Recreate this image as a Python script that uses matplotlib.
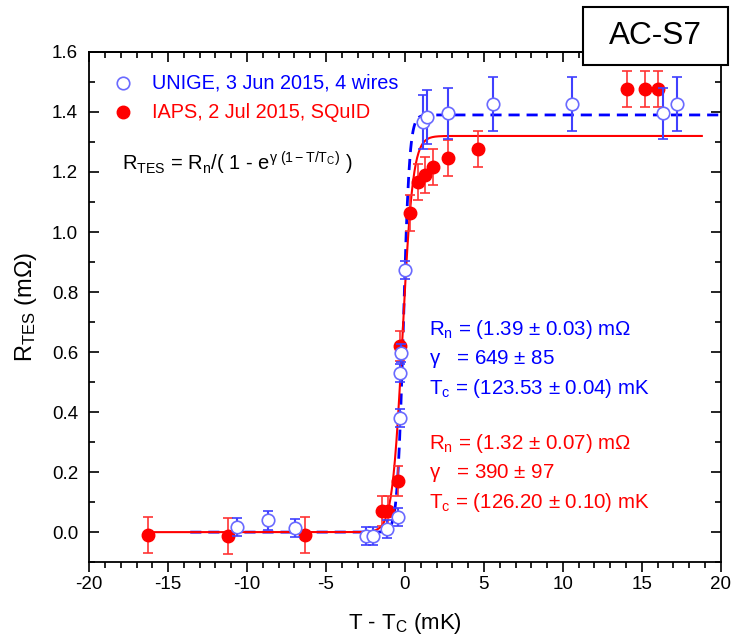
import numpy as np
import matplotlib
matplotlib.use("Agg")
import matplotlib.pyplot as plt
from matplotlib.patches import Rectangle
from matplotlib.ticker import MultipleLocator, FormatStrFormatter

plt.rcParams["font.family"] = ["Liberation Sans", "DejaVu Sans"]
plt.rcParams["mathtext.fontset"] = "custom"
plt.rcParams["mathtext.rm"] = "Liberation Sans"
plt.rcParams["mathtext.it"] = "Liberation Sans"
plt.rcParams["mathtext.bf"] = "Liberation Sans:bold"
plt.rcParams["axes.unicode_minus"] = False

# UNIGE, 3 Jun 2015, 4 wires
unige_x = [-10.65, -8.65, -6.96, -2.47, -2.0, -1.16, -0.42, -0.32, -0.30, -0.28,
           0.0, 1.16, 1.37, 2.74, 5.55, 10.55, 16.35, 17.2]
unige_y = [0.017, 0.039, 0.015, -0.014, -0.014, 0.011, 0.05, 0.38, 0.53, 0.597,
           0.872, 1.367, 1.383, 1.395, 1.426, 1.426, 1.395, 1.426]
unige_err = [0.03, 0.032, 0.03, 0.03, 0.03, 0.03, 0.03, 0.03, 0.03, 0.03,
             0.03, 0.09, 0.09, 0.085, 0.09, 0.09, 0.085, 0.09]

# IAPS, 2 Jul 2015, SQuID
iaps_x = [-16.25, -11.18, -6.33, -1.47, -1.06, -0.42, -0.32, 0.32, 0.84, 1.27,
          1.75, 2.74, 4.6, 14.03, 15.23, 16.03]
iaps_y = [-0.011, -0.014, -0.011, 0.072, 0.072, 0.172, 0.62, 1.063, 1.165, 1.19,
          1.215, 1.245, 1.275, 1.476, 1.476, 1.476]
iaps_err = [0.06, 0.06, 0.06, 0.05, 0.05, 0.05, 0.05, 0.06, 0.06, 0.06,
            0.06, 0.06, 0.06, 0.06, 0.06, 0.06]

# fit results (Rn [mOhm], gamma, Tc [mK])
unige_fit = (1.39, 649, 123.53)
iaps_fit = (1.32, 390, 126.20)

BLUE = "#0000ff"
RED = "#ff0000"


def rtes(x, rn, gamma, tc, x0):
    return rn / (1 + np.exp(-gamma * (x - x0) / tc))


fig = plt.figure(figsize=(7.31, 6.41), dpi=100)
ax = fig.add_axes([0.122, 0.123, 0.864, 0.796])

# fitted curves
xb = np.linspace(-13.6, 20, 800)
ax.plot(xb, rtes(xb, *unige_fit, -0.1), color=BLUE, lw=2, ls=(0, (4, 2.5)), zorder=2)
xr = np.linspace(-16.25, 18.8, 800)
ax.plot(xr, rtes(xr, *iaps_fit, -0.15), color=RED, lw=1.5, zorder=2)

# data
ax.errorbar(iaps_x, iaps_y, yerr=iaps_err, fmt="o", color=RED, ms=9,
            ecolor="#ff3333", elinewidth=1.2, capsize=3.5, capthick=1.2, zorder=3)
ax.errorbar(unige_x, unige_y, yerr=unige_err, fmt="o", mfc="white", mec="#6a6aff",
            mew=1.2, ms=9, ecolor="#4040ff", elinewidth=1.5, capsize=3.5,
            capthick=1.5, zorder=4)

ax.set_xlim(-20, 20)
ax.set_ylim(-0.1, 1.6)
ax.xaxis.set_major_locator(MultipleLocator(5))
ax.xaxis.set_minor_locator(MultipleLocator(1))
ax.yaxis.set_major_locator(MultipleLocator(0.2))
ax.yaxis.set_minor_locator(MultipleLocator(0.1))
ax.yaxis.set_major_formatter(FormatStrFormatter("%.1f"))
ax.tick_params(axis="x", which="both", direction="out", top=False, labelsize=13.5,
               pad=3, width=1.2)
ax.tick_params(axis="y", which="both", direction="in", right=True, labelsize=13.5,
               pad=8, width=1.2)
ax.tick_params(which="major", length=7)
ax.tick_params(which="minor", length=4)
# top axis ticks pointing inward
sec = ax.secondary_xaxis("top")
sec.xaxis.set_major_locator(MultipleLocator(5))
sec.xaxis.set_minor_locator(MultipleLocator(1))
sec.tick_params(which="both", direction="in", labeltop=False, width=1.2)
sec.tick_params(which="major", length=7)
sec.tick_params(which="minor", length=4)
for s in ax.spines.values():
    s.set_linewidth(1.3)
sec.spines["top"].set_linewidth(1.3)

ax.set_xlabel(r"T - T$_\mathregular{C}$ (mK)", fontsize=16, labelpad=13)
ax.set_ylabel(r"R$_\mathregular{TES}$ (m$\Omega$)", fontsize=17, labelpad=9)

# legend
ax.plot([-17.85], [1.497], "o", mfc="white", mec="#6a6aff", mew=1.2, ms=9)
ax.plot([-17.85], [1.399], "o", color=RED, ms=9)
ax.text(-16.0, 1.497, "UNIGE, 3 Jun 2015, 4 wires", color=BLUE, fontsize=14.3,
        va="center")
ax.text(-16.0, 1.399, "IAPS, 2 Jul 2015, SQuID", color=RED, fontsize=14.3,
        va="center")
ax.text(-17.9, 1.23,
        r"R$_\mathregular{TES}$ = R$_\mathregular{n}$/( 1 - e$^{\gamma\ \mathregular{(1-T/T_C)}}$ )",
        fontsize=14.5, va="center")

blue_lines = [r"R$_\mathregular{n}$ = (1.39 $\pm$ 0.03) m$\Omega$",
              r"$\gamma$   = 649 $\pm$ 85",
              r"T$_\mathregular{c}$ = (123.53 $\pm$ 0.04) mK"]
red_lines = [r"R$_\mathregular{n}$ = (1.32 $\pm$ 0.07) m$\Omega$",
             r"$\gamma$   = 390 $\pm$ 97",
             r"T$_\mathregular{c}$ = (126.20 $\pm$ 0.10) mK"]
for i, t in enumerate(blue_lines):
    ax.text(1.55, 0.675 - i * 0.098, t, color=BLUE, fontsize=14.8, va="center")
for i, t in enumerate(red_lines):
    ax.text(1.55, 0.295 - i * 0.098, t, color=RED, fontsize=14.8, va="center")

# sample label box, overlapping the top-right corner of the frame
fig.add_artist(Rectangle((0.7975, 0.8986), 0.198, 0.0905, transform=fig.transFigure,
                         fc="white", ec="black", lw=1.5, zorder=5))
fig.text(0.8967, 0.944, "AC-S7", fontsize=22.7, ha="center", va="center", zorder=6)

fig.savefig("out.png", dpi=100)
